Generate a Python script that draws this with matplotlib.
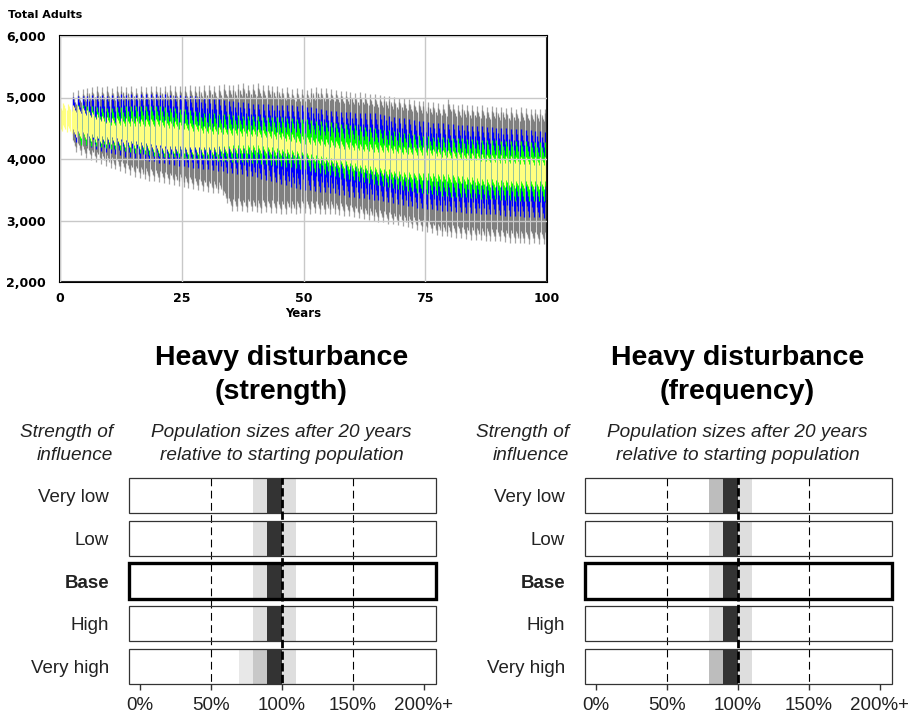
import numpy as np
import matplotlib.pyplot as plt
from matplotlib.patches import Rectangle

plt.rcParams['font.family'] = ['Liberation Sans', 'DejaVu Sans']

# ---------------- top chart: Total Adults over 100 years ----------------
years = list(range(0, 101))
N = None

gray_hi = [N, N, N, 4950, 4980, 5000, 5020, 5030, 5040, 5030, 5040,
           5020, 5040, 5050, 5030, 5040, 5020, 5040, 5030, 5050, 5040,
           5030, 5040, 5060, 5040, 5050, 5040, 5060, 5050, 5040, 5060,
           5070, 5050, 5060, 5080, 5070, 5060, 5080, 5090, 5070, 5080,
           5090, 5060, 5070, 5050, 5040, 5020, 5030, 5000, 5010, 5000,
           4990, 5020, 5030, 5010, 5020, 5000, 4990, 4970, 4960, 4950,
           4940, 4950, 4930, 4920, 4910, 4900, 4890, 4880, 4870, 4860,
           4850, 4840, 4820, 4810, 4800, 4790, 4780, 4770, 4760, 4840,
           4760, 4740, 4750, 4730, 4740, 4720, 4730, 4710, 4720, 4700,
           4710, 4690, 4700, 4680, 4700, 4690, 4670, 4680, 4670, 4680]
gray_lo = [N, N, N, 4250, 4200, 4150, 4120, 4090, 4060, 4030, 4000,
           3970, 3940, 3910, 3880, 3850, 3830, 3810, 3790, 3780, 3760,
           3750, 3730, 3720, 3700, 3690, 3670, 3650, 3630, 3620, 3600,
           3590, 3580, 3560, 3420, 3300, 3290, 3300, 3280, 3290, 3280,
           3270, 3280, 3260, 3270, 3250, 3250, 3260, 3250, 3260, 3260,
           3250, 3260, 3250, 3240, 3250, 3250, 3230, 3220, 3210, 3200,
           3180, 3170, 3150, 3140, 3120, 3110, 3090, 3080, 3060, 3050,
           3030, 3010, 2990, 2970, 2950, 2930, 2900, 2890, 2880, 2870,
           2860, 2850, 2840, 2830, 2830, 2820, 2810, 2810, 2800, 2800,
           2790, 2780, 2780, 2770, 2770, 2760, 2770, 2760, 2760, 2760]
blue_hi = [N, N, N, 4880, 4890, 4900, 4900, 4910, 4900, 4910, 4900,
           4910, 4900, 4920, 4910, 4920, 4910, 4920, 4930, 4920, 4920,
           4910, 4920, 4910, 4900, 4910, 4900, 4890, 4890, 4880, 4870,
           4860, 4850, 4840, 4830, 4820, 4810, 4800, 4790, 4780, 4770,
           4770, 4760, 4760, 4750, 4750, 4750, 4740, 4740, 4730, 4740,
           4720, 4710, 4700, 4690, 4670, 4650, 4650, 4640, 4630, 4630,
           4620, 4620, 4610, 4610, 4610, 4600, 4590, 4570, 4550, 4540,
           4530, 4520, 4510, 4490, 4480, 4470, 4460, 4460, 4450, 4440,
           4440, 4430, 4430, 4420, 4410, 4410, 4400, 4390, 4390, 4380,
           4370, 4370, 4360, 4360, 4350, 4340, 4340, 4330, 4320, 4310]
blue_lo = [N, N, N, 4400, 4380, 4350, 4320, 4290, 4260, 4240, 4220,
           4210, 4190, 4170, 4160, 4140, 4130, 4120, 4100, 4090, 4070,
           4060, 4050, 4040, 4020, 4010, 4000, 3990, 3980, 3970, 3960,
           3950, 3940, 3930, 3910, 3900, 3890, 3880, 3860, 3850, 3830,
           3810, 3790, 3770, 3750, 3720, 3700, 3680, 3660, 3640, 3630,
           3620, 3610, 3600, 3590, 3580, 3570, 3550, 3540, 3520, 3510,
           3500, 3490, 3480, 3470, 3460, 3440, 3430, 3420, 3400, 3390,
           3370, 3360, 3340, 3330, 3310, 3310, 3300, 3290, 3290, 3280,
           3270, 3270, 3260, 3260, 3250, 3240, 3240, 3230, 3230, 3220,
           3210, 3210, 3200, 3200, 3190, 3190, 3180, 3180, 3170, 3170]
green_hi = [N, N, N, N, 4760, 4760, 4750, 4740, 4730, 4720, 4720,
            4720, 4730, 4730, 4740, 4740, 4740, 4750, 4750, 4750, 4750,
            4740, 4730, 4720, 4710, 4700, 4690, 4680, 4660, 4650, 4640,
            4630, 4630, 4620, 4610, 4610, 4600, 4600, 4590, 4590, 4580,
            4580, 4570, 4570, 4560, 4560, 4560, 4550, 4550, 4540, 4540,
            4530, 4520, 4510, 4500, 4490, 4480, 4470, 4460, 4450, 4440,
            4430, 4420, 4410, 4400, 4390, 4380, 4360, 4350, 4340, 4320,
            4310, 4300, 4290, 4270, 4260, 4260, 4250, 4240, 4240, 4230,
            4230, 4220, 4220, 4210, 4210, 4200, 4200, 4200, 4190, 4190,
            4180, 4180, 4180, 4170, 4170, 4170, 4160, 4160, 4160, 4160]
green_lo = [N, N, N, N, 4350, 4340, 4330, 4320, 4310, 4290, 4280,
            4270, 4260, 4250, 4230, 4220, 4210, 4200, 4180, 4170, 4160,
            4150, 4150, 4140, 4140, 4130, 4120, 4120, 4110, 4110, 4100,
            4100, 4090, 4090, 4080, 4070, 4070, 4060, 4060, 4050, 4050,
            4040, 4030, 4020, 4010, 4000, 3990, 3980, 3970, 3960, 3950,
            3920, 3900, 3890, 3870, 3850, 3840, 3820, 3810, 3790, 3770,
            3760, 3740, 3730, 3710, 3690, 3680, 3660, 3640, 3630, 3610,
            3600, 3590, 3570, 3560, 3550, 3540, 3530, 3520, 3510, 3500,
            3500, 3490, 3490, 3480, 3480, 3470, 3470, 3460, 3460, 3450,
            3450, 3450, 3440, 3440, 3440, 3440, 3440, 3440, 3440, 3440]
yellow_hi = [4850, 4850, 4840, 4820, 4800, 4770, 4740, 4710, 4670, 4640, 4620,
             4610, 4610, 4600, 4600, 4600, 4600, 4590, 4590, 4590, 4590,
             4580, 4570, 4560, 4550, 4540, 4530, 4520, 4510, 4490, 4480,
             4470, 4470, 4460, 4460, 4450, 4450, 4440, 4440, 4430, 4430,
             4420, 4410, 4400, 4390, 4380, 4360, 4350, 4340, 4320, 4310,
             4300, 4290, 4280, 4270, 4260, 4250, 4240, 4230, 4220, 4210,
             4200, 4190, 4190, 4180, 4180, 4170, 4170, 4160, 4150, 4140,
             4140, 4140, 4130, 4130, 4130, 4120, 4110, 4100, 4090, 4080,
             4070, 4060, 4050, 4040, 4040, 4030, 4020, 4010, 4010, 4000,
             4000, 3990, 3990, 3980, 3980, 3980, 3970, 3970, 3970, 3970]
yellow_lo = [4510, 4500, 4480, 4420, 4400, 4380, 4360, 4340, 4320, 4310, 4300,
             4290, 4280, 4260, 4250, 4240, 4230, 4210, 4200, 4180, 4160,
             4160, 4150, 4150, 4150, 4150, 4140, 4140, 4140, 4140, 4140,
             4140, 4140, 4150, 4150, 4150, 4160, 4160, 4160, 4170, 4170,
             4160, 4150, 4140, 4130, 4120, 4110, 4100, 4090, 4070, 4060,
             4040, 4020, 4000, 3990, 3970, 3950, 3930, 3910, 3900, 3880,
             3870, 3850, 3840, 3820, 3810, 3800, 3780, 3770, 3750, 3740,
             3730, 3730, 3720, 3720, 3720, 3710, 3710, 3700, 3700, 3690,
             3680, 3670, 3660, 3650, 3640, 3630, 3620, 3610, 3610, 3600,
             3600, 3600, 3590, 3590, 3590, 3580, 3580, 3580, 3580, 3580]

# ---------------- bottom panels ----------------
row_labels = ["Very low", "Low", "Base", "High", "Very high"]
pct_ticks = [0, 50, 100, 150, 200]
pct_labels = ["0%", "50%", "100%", "150%", "200%+"]

# (from %, to %, shade level) per row
strength_segments = [
    [(80, 90, 1), (90, 100, 4), (100, 110, 1)],
    [(80, 90, 1), (90, 100, 4), (100, 110, 1)],
    [(80, 90, 1), (90, 100, 4), (100, 110, 1)],
    [(80, 90, 1), (90, 100, 4), (100, 110, 1)],
    [(70, 80, 0), (80, 90, 2), (90, 100, 4), (100, 110, 1)],
]
frequency_segments = [
    [(80, 90, 3), (90, 100, 4), (100, 110, 1)],
    [(80, 90, 1), (90, 100, 4), (100, 110, 1)],
    [(80, 90, 1), (90, 100, 4), (100, 110, 1)],
    [(80, 90, 1), (90, 100, 4), (100, 110, 1)],
    [(80, 90, 3), (90, 100, 4), (100, 110, 1)],
]
shades = ['#e8e8e8', '#dedede', '#c8c8c8', '#bdbdbd', '#333333']


def arr(v):
    return np.array([np.nan if x is None else x for x in v], dtype=float)


W, H = 908, 717
fig = plt.figure(figsize=(W / 100, H / 100), dpi=100)


def fx(px):
    return px / W


def fy(py):
    return 1 - py / H


# top chart
ax = fig.add_axes([fx(60), fy(282), 487 / W, 246 / H])
yrs = np.array(years, dtype=float)
# each year is drawn as a short saw-tooth streak: 4 sub-steps falling by 2*S
sub_dx = [-0.375, -0.125, 0.125, 0.375]
sub_f = [1.0, 1 / 3, -1 / 3, -1.0]
bands = [(gray_hi, gray_lo, '#a4a4a4', 140), (gray_hi, gray_lo, '#808080', 60),
         (blue_hi, blue_lo, '#0000ff', 130), (green_hi, green_lo, '#00ff00', 115),
         (yellow_hi, yellow_lo, '#ffff80', 60)]
for hi, lo, col, S in bands:
    hi, lo = arr(hi), arr(lo)
    m = ~np.isnan(hi)
    for dx, f in zip(sub_dx, sub_f):
        ax.vlines(yrs[m] + dx, lo[m] + f * S, hi[m] + f * S, colors=col,
                  lw=0.9, zorder=2)

ax.set_xlim(0, 100)
ax.set_ylim(2000, 6000)
ax.set_xticks([0, 25, 50, 75, 100])
ax.set_yticks([2000, 3000, 4000, 5000, 6000])
ax.set_yticklabels(['2,000', '3,000', '4,000', '5,000', '6,000'])
ax.grid(True, color='#c8c8c8', lw=1)
ax.set_axisbelow(False)
ax.tick_params(length=0, labelsize=9)
ax.tick_params(axis='y', pad=10)
ax.tick_params(axis='x', pad=7)
for lab in ax.get_xticklabels() + ax.get_yticklabels():
    lab.set_fontfamily('DejaVu Sans')
    lab.set_fontweight('bold')
for s in ax.spines.values():
    s.set_color('black')
    s.set_linewidth(1.5)
fig.text(fx(8), fy(15), "Total Adults", ha='left', va='center',
         fontsize=8, fontweight='bold', family='DejaVu Sans')
fig.text(fx(303), fy(314), "Years", ha='center', va='center',
         fontsize=8.5, fontweight='bold', family='DejaVu Sans')


def draw_panel(left_px, segments, subtitle):
    off = left_px - 129
    a = fig.add_axes([fx(left_px), fy(684), 306.7 / W, 206 / H])
    x0, x1 = -7.5, 208.5
    a.set_xlim(x0, x1)
    a.set_ylim(4.41, -0.41)
    for i, segs in enumerate(segments):
        for s0, s1, lev in segs:
            a.add_patch(Rectangle((s0, i - 0.41), s1 - s0, 0.82, facecolor=shades[lev],
                                  lw=0, zorder=1))
        a.add_patch(Rectangle((x0, i - 0.41), x1 - x0, 0.82, fill=False,
                              ec='black' if i == 2 else '#333333',
                              lw=2.4 if i == 2 else 0.9, zorder=3, clip_on=False))
        a.text(-21.5, i + 0.05, row_labels[i], ha='right', va='center', fontsize=13.5,
               color='#222222', fontweight='bold' if i == 2 else 'normal')
    a.vlines([50, 150], -0.41, 4.41, colors='black', lw=0.8,
             linestyles=(0, (7, 4)), zorder=2)
    a.vlines([100], -0.45, 4.45, colors='black', lw=2,
             linestyles=(0, (3, 1.2)), zorder=4)
    a.set_yticks([])
    a.set_xticks(pct_ticks)
    a.set_xticklabels(pct_labels)
    a.tick_params(axis='x', length=4, width=1, color='#333333', pad=5,
                  labelsize=13.5, labelcolor='#222222')
    for s in a.spines.values():
        s.set_visible(False)

    cx = 281.5 + off
    fig.text(fx(cx), fy(365), "Heavy disturbance", ha='center', va='baseline',
             fontsize=20.5, fontweight='bold')
    fig.text(fx(cx), fy(399), subtitle, ha='center', va='baseline',
             fontsize=20.5, fontweight='bold')
    fig.text(fx(cx), fy(437), "Population sizes after 20 years", ha='center',
             va='baseline', fontsize=13.7, style='italic', color='#222222')
    fig.text(fx(cx), fy(460), "relative to starting population", ha='center',
             va='baseline', fontsize=13.7, style='italic', color='#222222')
    fig.text(fx(113 + off), fy(437), "Strength of", ha='right', va='baseline',
             fontsize=13.7, style='italic', color='#222222')
    fig.text(fx(113 + off), fy(460), "influence", ha='right', va='baseline',
             fontsize=13.7, style='italic', color='#222222')


draw_panel(129, strength_segments, "(strength)")
draw_panel(585, frequency_segments, "(frequency)")

fig.savefig("out.png", dpi=100)
